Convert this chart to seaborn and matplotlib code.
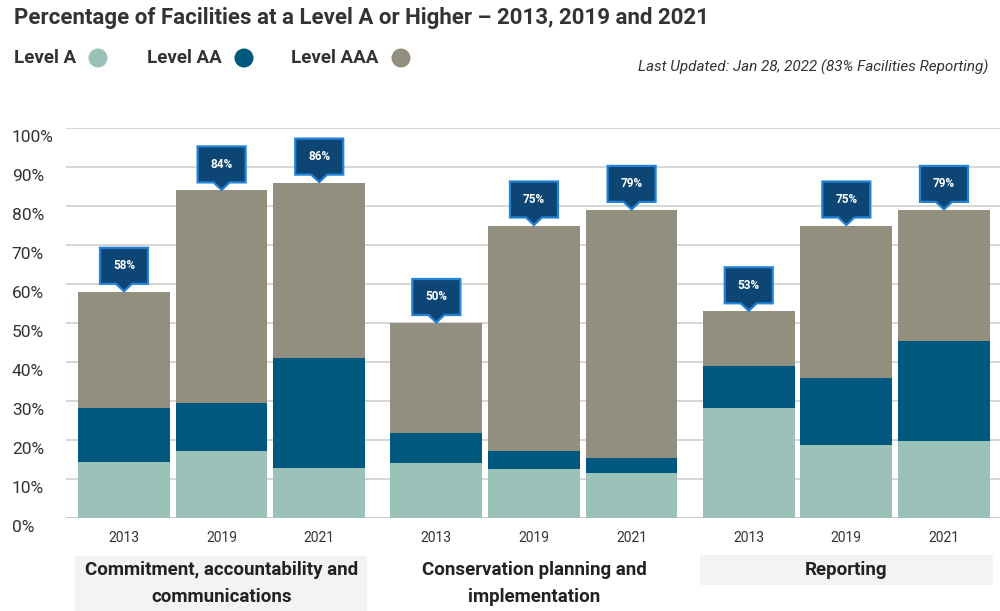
import numpy as np
import pandas as pd
import matplotlib
matplotlib.use("Agg")
import matplotlib.pyplot as plt
import matplotlib.transforms as mtransforms
from matplotlib.patches import Polygon, Rectangle, Ellipse
import seaborn as sns

# ---- data -------------------------------------------------------------
categories = [
    "Commitment, accountability and\ncommunications",
    "Conservation planning and\nimplementation",
    "Reporting",
]
years = ["2013", "2019", "2021"]
level_a = [14.3, 17.2, 12.7, 14.2, 12.6, 11.5, 28.1, 18.7, 19.7]
level_aa = [14.0, 12.4, 28.3, 7.7, 4.6, 4.0, 11.0, 17.3, 25.7]
level_aaa = [29.7, 54.4, 45.0, 28.1, 57.8, 63.5, 13.9, 39.0, 33.6]
totals = [58, 84, 86, 50, 75, 79, 53, 75, 79]
y_ticks = [0, 10, 20, 30, 40, 50, 60, 70, 80, 90, 100]

# ---- styling ----------------------------------------------------------
C_A = "#9bc2b8"
C_AA = "#00587f"
C_AAA = "#938f7e"
C_BOX = "#0d4675"
C_BOX_EDGE = "#2383d6"
C_TEXT = "#333333"

sns.set_theme(style="white")
plt.rcParams["font.family"] = ["Roboto", "DejaVu Sans"]

# bar slots: three per group, small extra gap between groups
group_gap = 0.2
pos = []
for g in range(len(categories)):
    for k in range(len(years)):
        pos.append(g * (len(years) + group_gap) + k)

df = pd.DataFrame({
    "pos": pos,
    "year": years * len(categories),
    "a": level_a,
    "aa": level_aa,
    "aaa": level_aaa,
})
df["cum_a"] = df["a"]
df["cum_aa"] = df["a"] + df["aa"]
df["cum_aaa"] = df["a"] + df["aa"] + df["aaa"]

fig = plt.figure(figsize=(10, 6.11), dpi=100)
ax = fig.add_axes([0.066, 1 - 518 / 611, 0.934, (518 - 128) / 611])

# horizontal grid
for t in y_ticks:
    ax.axhline(t, color="#d6d6d6" if t else "#c8c8c8", lw=1.4, zorder=0)

# stacked bars drawn as overlapping cumulative layers
bar_kw = dict(x="pos", native_scale=True, width=0.94, errorbar=None,
              saturation=1, linewidth=0, ax=ax, zorder=2)
sns.barplot(data=df, y="cum_aaa", color=C_AAA, **bar_kw)
sns.barplot(data=df, y="cum_aa", color=C_AA, **bar_kw)
sns.barplot(data=df, y="cum_a", color=C_A, **bar_kw)

ax.set_xlim(pos[0] - 0.594, pos[-1] + 0.574)
ax.set_ylim(0, 100)
sns.despine(ax=ax, left=True, bottom=True)
ax.set_xlabel("")
ax.set_ylabel("")

ax.set_xticks(pos)
ax.set_xticklabels(df["year"], fontsize=10, color=C_TEXT)
ax.tick_params(axis="x", length=0, pad=9)

ax.set_yticks(y_ticks)
ax.set_yticklabels([f"{t}%" for t in y_ticks], fontsize=12.5, color=C_TEXT)
ax.tick_params(axis="y", length=0, pad=39)
shift = mtransforms.ScaledTranslation(0, -8 / 100, fig.dpi_scale_trans)
for lbl in ax.get_yticklabels():
    lbl.set_ha("left")
    lbl.set_transform(lbl.get_transform() + shift)

# value callouts above each bar (box with a downward pointer)
bw, bh, gap, tip = 0.48, 0.36, 0.08, 0.08
for x, tot in zip(df["pos"], totals):
    anchor = mtransforms.ScaledTranslation(x, tot, ax.transData)
    tr = fig.dpi_scale_trans + anchor
    verts = [
        (-bw / 2, gap), (-tip, gap), (0, 0.005), (tip, gap), (bw / 2, gap),
        (bw / 2, gap + bh), (-bw / 2, gap + bh),
    ]
    ax.add_patch(Polygon(verts, closed=True, transform=tr, facecolor=C_BOX,
                         edgecolor=C_BOX_EDGE, lw=1.6, clip_on=False, zorder=5))
    ax.text(0, gap + bh / 2, f"{tot}%", transform=tr, ha="center",
            va="center", color="white", fontsize=8.5, fontweight="bold",
            zorder=6, clip_on=False)

# group labels under the years
def fx(p):
    return p / 1000
def fy(p):
    return 1 - p / 611

boxes = [(75, 367, 556, 611, "#f3f3f3"), None, (700, 993, 555, 585, "#f3f3f3")]
for g, name in enumerate(categories):
    centre = np.mean(pos[g * 3:(g + 1) * 3])
    if boxes[g] is not None:
        x0, x1, y0, y1, col = boxes[g]
        fig.patches.append(Rectangle((fx(x0), fy(y1)), fx(x1 - x0), (y1 - y0) / 611,
                                     transform=fig.transFigure, facecolor=col,
                                     edgecolor="none", zorder=0))
    xc = ax.transData.transform((centre, 0))[0]
    for i, line in enumerate(name.split("\n")):
        fig.text(xc / 1000, fy(570 + 27.5 * i), line, ha="center", va="center",
                 fontsize=13.5, fontweight="bold", color="#222222")

# title, legend and note
fig.text(0.014, fy(18), "Percentage of Facilities at a Level A or Higher \u2013 2013, 2019 and 2021",
         ha="left", va="center", fontsize=16, fontweight="bold", color=C_TEXT)

legend_items = [("Level A", C_A, 14, 98), ("Level AA", C_AA, 147, 244),
                ("Level AAA", C_AAA, 291, 401)]
for label, col, tx, cx in legend_items:
    fig.text(fx(tx), fy(58), label, ha="left", va="center", fontsize=13.5,
             fontweight="bold", color=C_TEXT)
    fig.patches.append(Ellipse((fx(cx), fy(58)), 19 / 1000, 19 / 611,
                               transform=fig.transFigure, facecolor=col,
                               edgecolor="none"))

fig.text(fx(988), fy(67), "Last Updated: Jan 28, 2022 (83% Facilities Reporting)",
         ha="right", va="center", fontsize=11, style="italic", color=C_TEXT)

fig.savefig("out.png", dpi=100)
